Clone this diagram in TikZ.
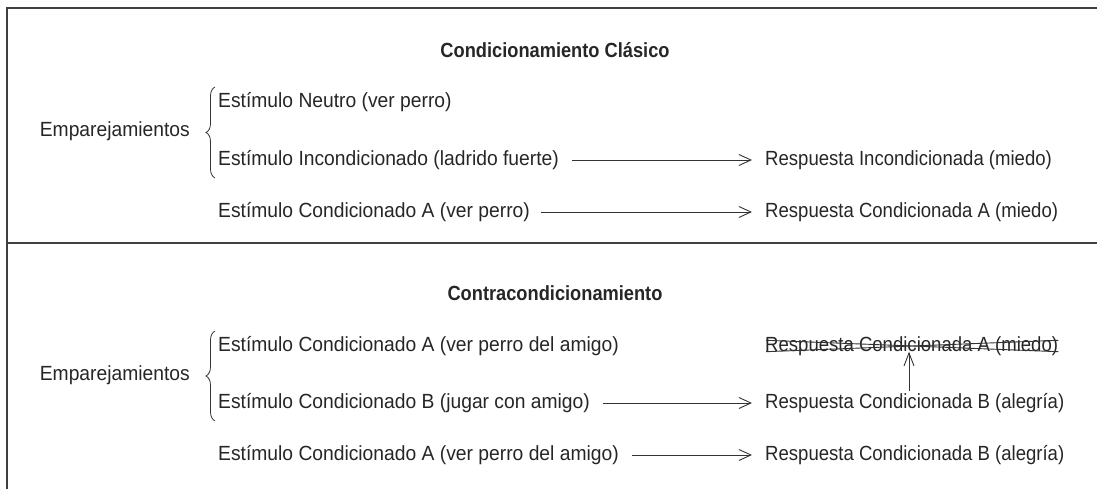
\documentclass[tikz,border=0pt]{standalone}
\usepackage{fontspec}
\setmainfont{Liberation Sans}
\newfontfamily\leftfont[FakeStretch=0.94]{Liberation Sans}
\newfontfamily\respfont[FakeStretch=0.905]{Liberation Sans}
\newfontfamily\titlefont[FakeStretch=0.89]{Liberation Sans Bold}
\usetikzlibrary{arrows.meta,decorations.pathreplacing}
\begin{document}
\begin{tikzpicture}[x=1pt,y=-1pt,
  every node/.style={inner sep=0pt,text=black!85},
  txt/.style={font=\leftfont\fontsize{20.5}{24}\selectfont,anchor=west,text height=15pt,text depth=4pt},
  resp/.style={txt,font=\respfont\fontsize{20.5}{24}\selectfont},
  ttl/.style={font=\titlefont\fontsize{20.5}{24}\selectfont,text height=15pt,text depth=4pt},
  arr/.style={draw=black!80,line width=0.9pt,-{Straight Barb[length=12pt,width=11pt,line width=0.9pt]}},
  frame/.style={draw=black!75,line width=1.2pt},
  brc/.style={draw=black!80,line width=0.8pt,decorate,decoration={brace,amplitude=9pt}},
  cross/.style={draw=black!80,line width=0.9pt}]
\useasboundingbox (0,0) rectangle (1097,489);
% frame
\draw[frame] (1097,8) -- (7,8) -- (7,489);
\draw[frame] (7,243) -- (1097,243);

% ---------- Condicionamiento Clasico ----------
\node[ttl] (t1) at (555,52) {Condicionamiento Clásico};
\node[txt,anchor=east] (e1) at (190,131) {Emparejamientos};
\node[txt] (s1) at (218,102) {Estímulo Neutro (ver perro)};
\node[txt] (s2) at (218,160) {Estímulo Incondicionado (ladrido fuerte)};
\node[txt] (s3) at (218,212) {Estímulo Condicionado A (ver perro)};
\node[resp] (r2) at (765,160) {Respuesta Incondicionada (miedo)};
\node[resp] (r3) at (765,212) {Respuesta Condicionada A (miedo)};
\coordinate (b1top) at (215,87);
\coordinate (b1bot) at (215,178);
\draw[brc] (b1bot) -- (b1top);
\draw[arr] ([xshift=13pt]s2.east) -- ([xshift=-13pt]r2.west);
\draw[arr] ([xshift=11pt]s3.east) -- ([xshift=-13pt]r3.west);

% ---------- Contracondicionamiento ----------
\node[ttl] (t2) at (555,295) {Contracondicionamiento};
\node[txt,anchor=east] (e2) at (190,375) {Emparejamientos};
\node[txt] (s4) at (218,346) {Estímulo Condicionado A (ver perro del amigo)};
\node[txt] (s5) at (218,403) {Estímulo Condicionado B (jugar con amigo)};
\node[txt] (s6) at (218,455) {Estímulo Condicionado A (ver perro del amigo)};
\node[resp] (r4) at (765,346) {Respuesta Condicionada A (miedo)};
\node[resp] (r5) at (765,403) {Respuesta Condicionada B (alegría)};
\node[resp] (r6) at (765,455) {Respuesta Condicionada B (alegría)};
\coordinate (b2top) at (215,331);
\coordinate (b2bot) at (215,421);
\draw[brc] (b2bot) -- (b2top);
\draw[arr] ([xshift=13pt]s5.east) -- ([xshift=-13pt]r5.west);
\draw[arr] ([xshift=13pt]s6.east) -- ([xshift=-13pt]r6.west);
% crossed out response
\draw[cross] ([shift={(1pt,-4pt)}]r4.north west) -- ([shift={(0pt,4pt)}]r4.south east);
\draw[cross] ([shift={(1pt,4pt)}]r4.south west) -- ([shift={(0pt,-4pt)}]r4.north east);
\coordinate (upfoot) at (909,391);
\draw[arr,-{Straight Barb[length=13pt,width=10pt,line width=0.9pt]}] (upfoot) -- ([yshift=4pt]r4.south -| upfoot);
\end{tikzpicture}
\end{document}
